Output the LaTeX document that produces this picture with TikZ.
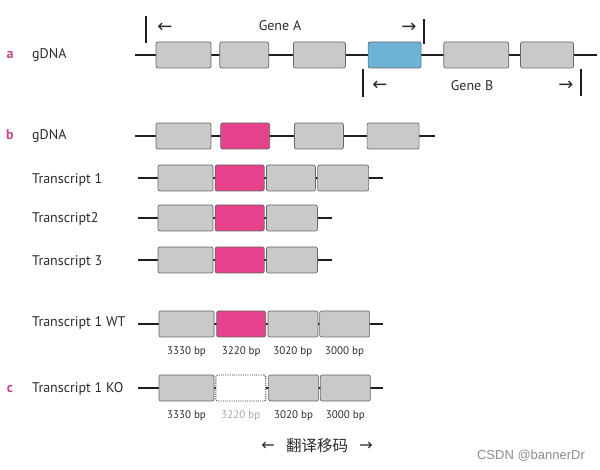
\documentclass[tikz,border=0pt]{standalone}
\usepackage{fontspec}
\setmainfont{PT Sans}
\newfontfamily\cjkfont{Noto Sans CJK SC}
\newfontfamily\wmfont{Liberation Sans}
\newfontfamily\arrfont{DejaVu Sans}
\usetikzlibrary{positioning,backgrounds}

\definecolor{exgray}{HTML}{C9C9C9}
\definecolor{expink}{HTML}{E6428B}
\definecolor{exblue}{HTML}{6CB3D5}
\definecolor{panelpk}{HTML}{C4468A}
\definecolor{txtdark}{HTML}{2B2B2B}

\begin{document}
\begin{tikzpicture}[
  x=1pt, y=-1pt,
  % --- exon boxes ---
  exbase/.style={
    rounded corners=2pt, minimum height=26pt, inner sep=0pt,
    line width=0.7pt, draw=black!60
  },
  ex/.style={exbase, fill=exgray},
  expk/.style={exbase, fill=expink},
  exbl/.style={exbase, fill=exblue},
  exko/.style={exbase, fill=white, draw=black!85, line width=0.9pt,
    dash pattern=on 1pt off 1.2pt},
  % --- lines ---
  dna/.style={line width=2.7pt, draw=black!88},
  gbar/.style={line width=2.6pt, draw=black!88},
  % --- labels ---
  rowlbl/.style={anchor=west, inner sep=0pt, text=txtdark, font=\fontsize{14}{16}\selectfont},
  panel/.style={inner sep=0pt, text=panelpk, font=\bfseries\fontsize{14}{16}\selectfont},
  genelbl/.style={inner sep=0pt, text=txtdark, font=\fontsize{14}{16}\selectfont},
  arrlbl/.style={inner sep=0pt, text=txtdark, font=\arrfont\fontsize{18}{20}\selectfont},
  bp/.style={inner sep=0pt, text=txtdark, font=\fontsize{11}{13}\selectfont},
]
\useasboundingbox (0,0) rectangle (600,470);

% ===================== a: gDNA =====================

\node[panel] (pa) at (10,55) {a};
\node[rowlbl] (la) at (32,55) {gDNA};

\coordinate (aL) at (135,55);
\coordinate (aR) at (597,55);

\node[ex, minimum width=55pt] (a1) at (183.5,55) {};
\node[ex, minimum width=49pt, right=8pt of a1] (a2) {};
\node[ex, minimum width=52pt, right=24pt of a2] (a3) {};
\node[exbl, minimum width=53pt, right=22pt of a3] (a4) {};
\node[ex, minimum width=65pt, right=22pt of a4] (a5) {};
\node[ex, minimum width=53pt, right=11pt of a5] (a6) {};

% Gene A span
\coordinate (gAl) at (146,16);
\coordinate (gAr) at (424,19);
\draw[gbar] (gAl) -- ++(0,27);
\draw[gbar] (gAr) -- ++(0,25);
\node[arrlbl] (gAla) at (165,28) {←};
\node[genelbl] (gA) at (280,26) {Gene A};
\node[arrlbl] (gAra) at (409,28) {→};

% Gene B span
\coordinate (gBl) at (363,69);
\coordinate (gBr) at (581,69);
\draw[gbar] (gBl) -- ++(0,28);
\draw[gbar] (gBr) -- ++(0,27);
\node[arrlbl] (gBla) at (380,86) {←};
\node[genelbl] (gB) at (472,86) {Gene B};
\node[arrlbl] (gBra) at (566,86) {→};

% ===================== b: gDNA + transcripts =====================

\node[panel] (pb) at (10,135) {b};
\node[rowlbl] (lb) at (32,136) {gDNA};

\coordinate (bL) at (135,136);
\coordinate (bR) at (435,136);

\node[ex, minimum width=55pt] (b1) at (183.5,136) {};
\node[expk, minimum width=49pt, right=9pt of b1] (b2) {};
\node[ex, minimum width=49pt, right=24pt of b2] (b3) {};
\node[ex, minimum width=52pt, right=23pt of b3] (b4) {};

% Transcript 1
\node[rowlbl] (lt1) at (32,180) {Transcript 1};
\coordinate (t1L) at (138,178);
\coordinate (t1R) at (383,178);
\node[ex, minimum width=55pt] (t11) at (185.5,178) {};
\node[expk, minimum width=49pt, right=1.5pt of t11] (t12) {};
\node[ex, minimum width=49pt, right=1.5pt of t12] (t13) {};
\node[ex, minimum width=51pt, right=1.5pt of t13] (t14) {};

% Transcript2
\node[rowlbl] (lt2) at (32,219) {Transcript2};
\coordinate (t2L) at (138,218);
\coordinate (t2R) at (332,218);
\node[ex, minimum width=55pt] (t21) at (185.5,218) {};
\node[expk, minimum width=49pt, right=1.5pt of t21] (t22) {};
\node[ex, minimum width=51pt, right=1.5pt of t22] (t23) {};

% Transcript 3
\node[rowlbl] (lt3) at (32,262) {Transcript 3};
\coordinate (t3L) at (138,260);
\coordinate (t3R) at (332,260);
\node[ex, minimum width=55pt] (t31) at (185.5,260) {};
\node[expk, minimum width=49pt, right=1.5pt of t31] (t32) {};
\node[ex, minimum width=51pt, right=1.5pt of t32] (t33) {};

% ===================== Transcript 1 WT =====================

\node[rowlbl] (lwt) at (32,323) {Transcript 1 WT};
\coordinate (wL) at (138,324);
\coordinate (wR) at (383,324);
\node[ex, minimum width=55pt] (w1) at (186.5,324) {};
\node[expk, minimum width=49pt, right=2pt of w1] (w2) {};
\node[ex, minimum width=50pt, right=1.5pt of w2] (w3) {};
\node[ex, minimum width=50pt, right=1pt of w3] (w4) {};

\node[bp, below=9pt of w1] (wbp1) {3330 bp};
\node[bp, below=9pt of w2] (wbp2) {3220 bp};
\node[bp, below=9pt of w3] (wbp3) {3020 bp};
\node[bp, below=9pt of w4] (wbp4) {3000 bp};

% ===================== c: Transcript 1 KO =====================

\node[panel] (pc) at (10,389) {c};
\node[rowlbl] (lko) at (32,389) {Transcript 1 KO};
\coordinate (kL) at (138,388);
\coordinate (kR) at (383,388);
\node[ex, minimum width=55pt] (k1) at (186.5,388) {};
\node[exko, minimum width=50pt, right=1pt of k1] (k2) {};
\node[ex, minimum width=50pt, right=2pt of k2] (k3) {};
\node[ex, minimum width=50pt, right=1pt of k3] (k4) {};

\node[bp, below=9pt of k1] (kbp1) {3330 bp};
\node[bp, below=9pt of k2, text=black!35] (kbp2) {3220 bp};
\node[bp, below=9pt of k3] (kbp3) {3020 bp};
\node[bp, below=9pt of k4] (kbp4) {3000 bp};

% frameshift
\node[arrlbl, font=\arrfont\fontsize{16}{18}\selectfont] (fsl) at (268,446) {←};
\node[inner sep=0pt, text=txtdark, font=\cjkfont\fontsize{15.5}{17}\selectfont] (fs) at (317,446) {翻译移码};
\node[arrlbl, font=\arrfont\fontsize{16}{18}\selectfont] (fsr) at (366,446) {→};

% watermark
\node[inner sep=0pt, text=black!45, font=\wmfont\fontsize{13}{15}\selectfont] (wm) at (531,456) {CSDN @bannerDr};

% ===================== DNA LINES =====================

\begin{scope}[on background layer]
  \draw[dna] (aL) -- (aR);
  \draw[dna] (bL) -- (bR);
  \draw[dna] (t1L) -- (t1R);
  \draw[dna] (t2L) -- (t2R);
  \draw[dna] (t3L) -- (t3R);
  \draw[dna] (wL) -- (wR);
  \draw[dna] (kL) -- (kR);
\end{scope}

\end{tikzpicture}
\end{document}
